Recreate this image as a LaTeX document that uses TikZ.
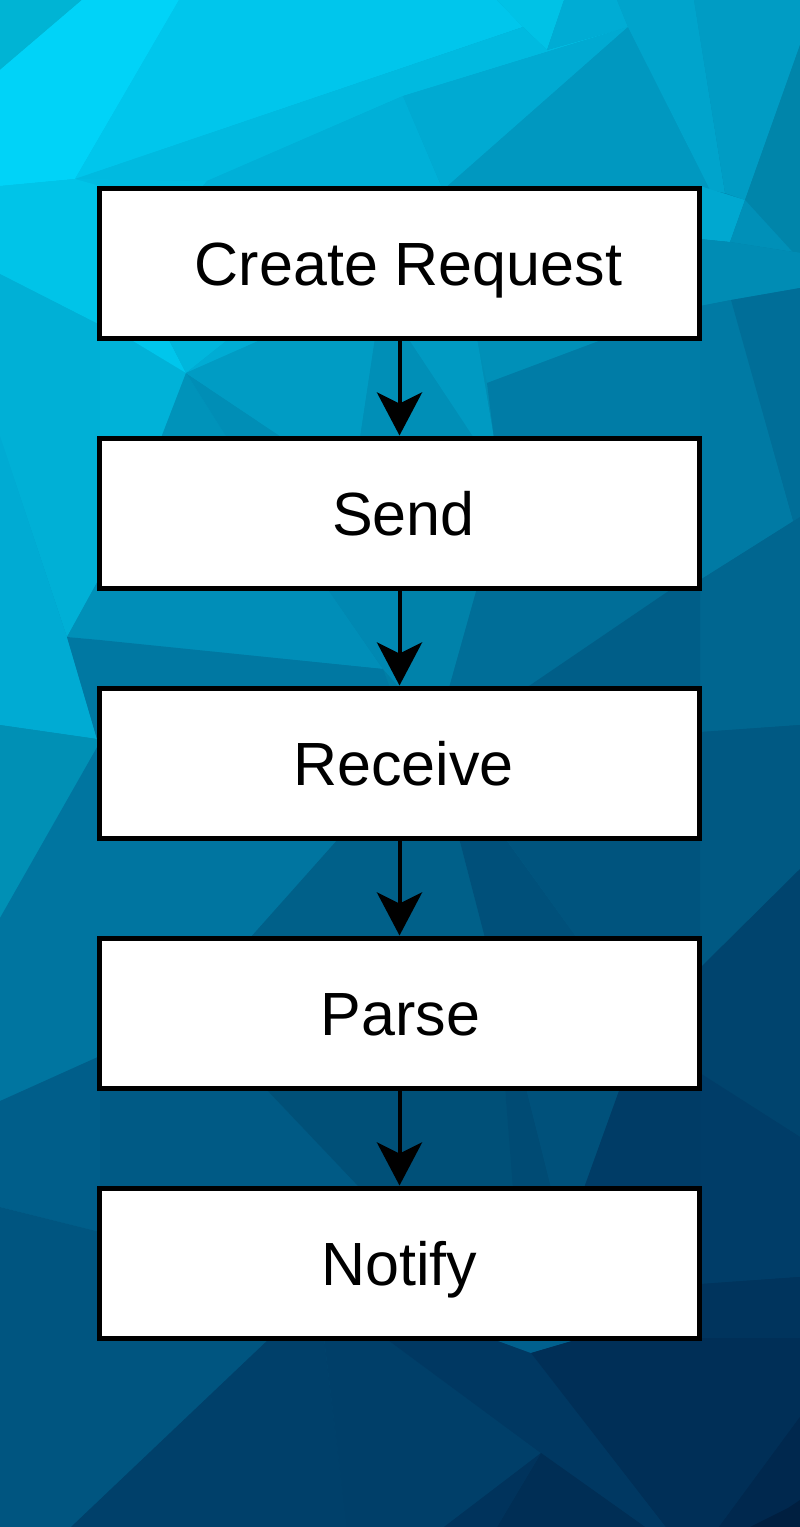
\documentclass[tikz,border=0pt]{standalone}
\usepackage{fontspec}
\setmainfont{Liberation Sans}
\usetikzlibrary{arrows.meta,shadings}
\newcommand\pfacet[2]{\definecolor{tmpfc}{HTML}{#1}\fill[tmpfc] #2 -- cycle;}
\tikzset{
  stepbox/.style={draw=black, line width=5pt, fill=white, rectangle, minimum width=600pt, minimum height=150pt, inner sep=0pt, text height=44pt, text depth=0pt, font=\fontsize{61}{73}\selectfont},
  flowarrow/.style={draw=black, line width=4pt, -{Stealth[length=43pt, width=45pt, inset=11pt]}}
}
\begin{document}
\begin{tikzpicture}[x=1pt,y=-1pt]
\useasboundingbox (0,0) rectangle (800,1527);
% base gradient
\definecolor{bgul}{HTML}{00D2F8}\definecolor{bgur}{HTML}{0090B8}
\definecolor{bgll}{HTML}{005580}\definecolor{bglr}{HTML}{002448}
\shade[upper left=bgul, upper right=bgur, lower left=bgll, lower right=bglr] (0,0) rectangle (800,1527);
% top facets
\pfacet{00B4D4}{(0,0) -- (82,0) -- (0,70)}
\pfacet{00D3F8}{(82,0) -- (179,0) -- (75,179) -- (0,186) -- (0,70)}
\pfacet{00C6EC}{(179,0) -- (497,0) -- (523,27) -- (75,179)}
\pfacet{00C2E6}{(497,0) -- (564,0) -- (547,50) -- (523,27)}
\pfacet{00BAE0}{(523,27) -- (547,50) -- (628,27) -- (403,96) -- (207,181) -- (75,179)}
\pfacet{00BCE2}{(75,179) -- (207,181) -- (190,200) -- (60,200)}
\pfacet{00B0D8}{(207,181) -- (403,96) -- (443,190) -- (200,190)}
\pfacet{00AAD2}{(403,96) -- (628,27) -- (443,190)}
\pfacet{0098C0}{(628,27) -- (710,190) -- (443,190)}
\pfacet{00ACD4}{(564,0) -- (617,0) -- (628,27) -- (547,50)}
\pfacet{00A4CC}{(617,0) -- (694,0) -- (725,193) -- (710,190) -- (628,27)}
\pfacet{009CC4}{(694,0) -- (800,0) -- (800,45) -- (745,200) -- (725,193)}
\pfacet{0085AA}{(800,45) -- (800,260) -- (745,200)}
% left margin
\pfacet{00C4E8}{(0,186) -- (75,179) -- (100,186) -- (100,325) -- (0,274)}
\pfacet{00B0D6}{(0,274) -- (100,325) -- (100,577) -- (67,637) -- (0,436)}
\pfacet{00ABD3}{(0,436) -- (67,637) -- (97,739) -- (0,725)}
\pfacet{0090B8}{(67,637) -- (100,577) -- (100,640)}
\pfacet{0078A2}{(67,637) -- (100,640) -- (100,742) -- (97,739)}
\pfacet{0090B5}{(0,725) -- (97,739) -- (100,742) -- (0,918)}
\pfacet{0075A0}{(0,918) -- (100,742) -- (100,1056) -- (0,1101)}
\pfacet{005E8A}{(0,1101) -- (100,1056) -- (100,1232) -- (0,1207)}
\pfacet{005580}{(0,1207) -- (100,1232) -- (100,1340) -- (0,1340)}
% right margin
\pfacet{00A8D0}{(700,186) -- (745,200) -- (730,242) -- (700,239)}
\pfacet{0090B8}{(745,200) -- (800,260) -- (800,253) -- (730,242)}
\pfacet{008CB4}{(700,239) -- (730,242) -- (800,253) -- (800,288) -- (731,300) -- (700,306)}
\pfacet{007AA4}{(700,306) -- (731,300) -- (800,545) -- (800,517) -- (700,580)}
\pfacet{006E98}{(731,300) -- (800,288) -- (800,545)}
\pfacet{006690}{(700,580) -- (800,517) -- (800,725) -- (700,732)}
\pfacet{005983}{(700,732) -- (800,725) -- (800,869) -- (700,968)}
\pfacet{00446E}{(700,968) -- (800,869) -- (800,1137) -- (700,1073)}
\pfacet{003D68}{(700,1073) -- (800,1137) -- (800,1277) -- (700,1284)}
\pfacet{00345D}{(700,1284) -- (800,1277) -- (800,1340) -- (700,1340)}
% gap 1
\pfacet{00B2D8}{(100,338) -- (128,338) -- (186,373) -- (161,438) -- (100,438)}
\pfacet{00C6EC}{(128,338) -- (168,338) -- (186,373)}
\pfacet{00B6DC}{(168,338) -- (230,338) -- (186,373)}
\pfacet{00ACD4}{(230,338) -- (265,338) -- (186,373)}
\pfacet{0093BA}{(186,373) -- (227,438) -- (161,438)}
\pfacet{008EB6}{(186,373) -- (283,438) -- (227,438)}
\pfacet{009CC4}{(265,338) -- (375,338) -- (360,438) -- (283,438) -- (186,373)}
\pfacet{008FB7}{(375,338) -- (408,338) -- (474,438) -- (360,438)}
\pfacet{009AC2}{(408,338) -- (477,338) -- (494,438) -- (474,438)}
\pfacet{0090B8}{(477,338) -- (607,338) -- (487,383)}
\pfacet{007CA6}{(487,383) -- (607,338) -- (700,338) -- (700,438) -- (494,438)}
% gap 2
\pfacet{008EB8}{(100,588) -- (327,588) -- (383,669) -- (100,640)}
\pfacet{0088B2}{(327,588) -- (400,588) -- (400,688) -- (383,669)}
\pfacet{0078A2}{(100,640) -- (383,669) -- (390,688) -- (100,688)}
\pfacet{0082AA}{(400,588) -- (477,588) -- (449,688) -- (400,688)}
\pfacet{006E98}{(477,588) -- (673,588) -- (526,688) -- (449,688)}
\pfacet{005E88}{(673,588) -- (700,588) -- (700,688) -- (526,688)}
% gap 3
\pfacet{0075A0}{(100,838) -- (339,838) -- (250,938) -- (100,938)}
\pfacet{006089}{(339,838) -- (459,838) -- (485,938) -- (250,938)}
\pfacet{00507A}{(459,838) -- (505,838) -- (577,938) -- (485,938)}
\pfacet{00547E}{(505,838) -- (700,838) -- (700,938) -- (577,938)}
% gap 4
\pfacet{005A85}{(100,1088) -- (265,1088) -- (360,1188) -- (100,1188)}
\pfacet{005078}{(265,1088) -- (505,1088) -- (513,1188) -- (360,1188)}
\pfacet{004B74}{(505,1088) -- (526,1088) -- (551,1188) -- (513,1188)}
\pfacet{00517B}{(526,1088) -- (620,1088) -- (584,1188) -- (551,1188)}
\pfacet{003C66}{(620,1088) -- (700,1088) -- (700,1188) -- (584,1188)}
% bottom
\pfacet{005580}{(0,1338) -- (270,1338) -- (71,1527) -- (0,1527)}
\pfacet{00406A}{(270,1338) -- (324,1338) -- (347,1527) -- (71,1527)}
\pfacet{003F69}{(324,1338) -- (385,1338) -- (541,1453) -- (444,1527) -- (347,1527)}
\pfacet{003862}{(385,1338) -- (490,1338) -- (531,1353) -- (666,1527) -- (645,1527) -- (541,1453)}
\pfacet{002E55}{(541,1453) -- (645,1527) -- (497,1527)}
\pfacet{00335C}{(541,1453) -- (497,1527) -- (444,1527)}
\pfacet{00608E}{(490,1338) -- (582,1338) -- (531,1353)}
\pfacet{002F57}{(582,1338) -- (800,1338) -- (800,1417) -- (719,1527) -- (666,1527) -- (531,1353)}
\pfacet{00284E}{(800,1417) -- (800,1527) -- (719,1527)}
\pfacet{001F40}{(788,1508) -- (800,1500) -- (800,1527) -- (750,1527)}
% boxes
\node[stepbox] (create) at (399.5,263) {\hspace{18pt}Create Request};
\node[stepbox] (send) at (399.5,513) {\hspace{8pt}Send};
\node[stepbox] (receive) at (399.5,763) {\hspace{8pt}Receive};
\node[stepbox] (parse) at (399.5,1013) {\hspace{2pt}Parse};
\node[stepbox] (notify) at (399.5,1263) {Notify};
% arrows
\draw[flowarrow] (create) -- (send);
\draw[flowarrow] (send) -- (receive);
\draw[flowarrow] (receive) -- (parse);
\draw[flowarrow] (parse) -- (notify);
\end{tikzpicture}
\end{document}
